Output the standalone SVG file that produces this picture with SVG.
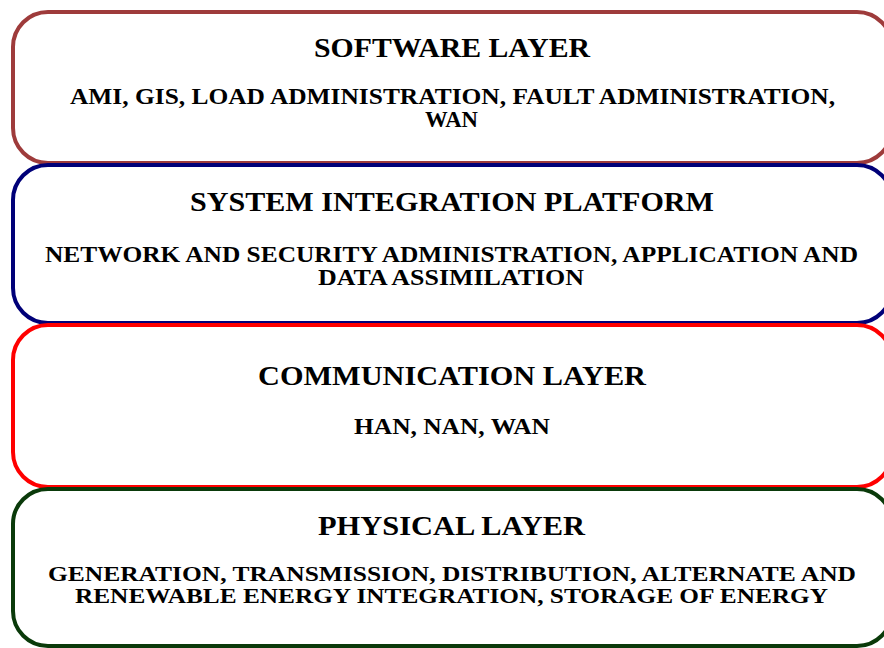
<svg xmlns="http://www.w3.org/2000/svg" width="884" height="648" viewBox="0 0 884 648">
<style>
.box{fill:#fff;stroke-width:4}
.t{font-family:"Liberation Serif","Times New Roman",serif;font-weight:bold;fill:#000;text-anchor:middle}
.h{font-size:27px}
.b{font-size:23px}
.s{font-size:21px}
</style>
<rect x="0" y="0" width="884" height="648" fill="#fff"/>
<g id="software">
<rect class="box" x="13" y="12" width="879" height="151" rx="35" stroke="#9E3B3B"/>
<text class="t h" x="452" y="57" textLength="276" lengthAdjust="spacingAndGlyphs">SOFTWARE LAYER</text>
<text class="t b" x="452.5" y="104" textLength="765" lengthAdjust="spacingAndGlyphs">AMI, GIS, LOAD ADMINISTRATION, FAULT ADMINISTRATION,</text>
<text class="t b" x="451.5" y="126.5" textLength="53" lengthAdjust="spacingAndGlyphs">WAN</text>
</g>
<g id="integration">
<rect class="box" x="13" y="165" width="879" height="158" rx="35" stroke="#000078"/>
<text class="t h" x="452" y="211" textLength="524" lengthAdjust="spacingAndGlyphs">SYSTEM INTEGRATION PLATFORM</text>
<text class="t b" x="451.5" y="262" textLength="813" lengthAdjust="spacingAndGlyphs">NETWORK AND SECURITY ADMINISTRATION, APPLICATION AND</text>
<text class="t b" x="451" y="285" textLength="266" lengthAdjust="spacingAndGlyphs">DATA ASSIMILATION</text>
</g>
<g id="communication">
<rect class="box" x="13" y="325" width="879" height="162" rx="35" stroke="#FF0000"/>
<text class="t h" x="452" y="385" textLength="388" lengthAdjust="spacingAndGlyphs">COMMUNICATION LAYER</text>
<text class="t b" x="452" y="434" textLength="196" lengthAdjust="spacingAndGlyphs">HAN, NAN, WAN</text>
</g>
<g id="physical">
<rect class="box" x="13" y="489" width="879" height="157" rx="35" stroke="#0A3A0A"/>
<text class="t h" x="451.5" y="535" textLength="267" lengthAdjust="spacingAndGlyphs">PHYSICAL LAYER</text>
<text class="t s" x="452" y="581" textLength="808" lengthAdjust="spacingAndGlyphs">GENERATION, TRANSMISSION, DISTRIBUTION, ALTERNATE AND</text>
<text class="t s" x="451.5" y="603" textLength="753" lengthAdjust="spacingAndGlyphs">RENEWABLE ENERGY INTEGRATION, STORAGE OF ENERGY</text>
</g>
<g id="connectors"></g>
</svg>
